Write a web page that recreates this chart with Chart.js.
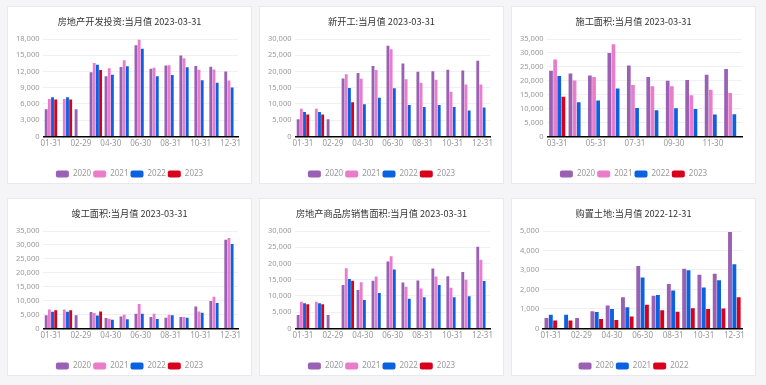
<!DOCTYPE html>
<html>
<head>
<meta charset="utf-8">
<script src="https://cdn.jsdelivr.net/npm/chart.js"></script>
<style>
  body { margin: 0; background: #f5f5f7; width: 766px; height: 385px; overflow: hidden; }
  .card { position: absolute; width: 245px; height: 178px; background: #fff; border: 1px solid #e8e8ee; box-sizing: border-box; }
  .card canvas { display: block; }
</style>
</head>
<body>
<div class="card" style="left:7px;top:6px"><canvas id="c1" width="243" height="176"></canvas></div>
<div class="card" style="left:259px;top:6px"><canvas id="c2" width="243" height="176"></canvas></div>
<div class="card" style="left:511px;top:6px"><canvas id="c3" width="243" height="176"></canvas></div>
<div class="card" style="left:7px;top:198px"><canvas id="c4" width="243" height="176"></canvas></div>
<div class="card" style="left:259px;top:198px"><canvas id="c5" width="243" height="176"></canvas></div>
<div class="card" style="left:511px;top:198px"><canvas id="c6" width="243" height="176"></canvas></div>

<script>
  // month-end categories (2020 has 02-29, other years 02-28)
  const months = ['01-31','02-28','02-29','03-31','04-30','05-31','06-30','07-31','08-31','09-30','10-31','11-30','12-31'];
  const monthsFromMar = ['03-31','04-30','05-31','06-30','07-31','08-31','09-30','10-31','11-30','12-31'];

  // 房地产开发投资
  const inv2020 = [5030, null, 5030, 11870, 11100, 12840, 16840, 12520, 13100, 14970, 13030, 12900, 12000];
  const inv2021 = [6900, 6900, null, 13550, 12580, 14060, 17870, 12710, 13160, 14450, 12320, 12390, 10320];
  const inv2022 = [7230, 7230, null, 13230, 11420, 12970, 16190, 11100, 11350, 12770, 10390, 9940, 9030];
  const inv2023 = [6840, 6840, null, 12260, null, null, null, null, null, null, null, null, null];

  // 新开工
  const start2020 = [5270, null, 5270, 17850, 19570, 21720, 27960, 22470, 19890, 20110, 20540, 20320, 23330];
  const start2021 = [8490, 8490, null, 19140, 17740, 20430, 26880, 17630, 16560, 17420, 13760, 16020, 16020];
  const start2022 = [7530, 7530, null, 14950, 9890, 11940, 14840, 9680, 9030, 9680, 9030, 7960, 8920];
  const start2023 = [6770, 6770, null, 10540, null, null, null, null, null, null, null, null, null];

  // 施工面积
  const cons2020 = [23620, 22620, 21870, 30000, 25500, 21370, 20000, 20250, 22120, 24250];
  const cons2021 = [27620, 20120, 21370, 33120, 18500, 18000, 18000, 14750, 16750, 15620];
  const cons2022 = [21750, 12250, 12870, 17250, 10250, 9370, 10120, 9870, 7870, 8000];
  const cons2023 = [14250, null, null, null, null, null, null, null, null, null];

  // 竣工面积
  const done2020 = [4750, null, 4750, 5870, 3750, 4250, 5250, 4120, 3870, 4120, 7870, 9870, 31870];
  const done2021 = [6750, 6750, null, 5500, 3500, 4870, 8750, 5250, 4870, 4120, 6120, 11370, 32500];
  const done2022 = [6000, 6000, null, 4620, 3120, 3250, 5250, 3370, 4750, 3870, 5620, 9120, 30370];
  const done2023 = [6500, 6500, null, 6120, null, null, null, null, null, null, null, null, null];

  // 房地产商品房销售面积
  const sale2020 = [4100, null, 4100, 13380, 11870, 14680, 20610, 14140, 14780, 18450, 16080, 17370, 25140];
  const sale2021 = [8200, 8200, null, 18560, 14250, 15970, 22230, 12840, 12300, 15970, 12520, 15000, 21150];
  const sale2022 = [7770, 7770, null, 15220, 8740, 10900, 18130, 9170, 9600, 13380, 9600, 9930, 14570];
  const sale2023 = [7450, 7450, null, 14680, null, null, null, null, null, null, null, null, null];

  // 购置土地
  const land2020 = [540, null, 540, 880, 1180, 1600, 3210, 1680, 2280, 3060, 2760, 2810, 4950];
  const land2021 = [700, 700, null, 840, 990, 1080, 2620, 1720, 1950, 2990, 2100, 2470, 3300];
  const land2022 = [410, 410, null, 480, 430, 610, 1220, 930, 860, 1040, 990, 1020, 1600];

  const purple = '#9a60b4', pink = '#ea7ccc', blue = '#0a62e0', red = '#d9001b';

  Chart.defaults.font.family = "'Noto Sans', 'Noto Sans CJK SC', sans-serif";

  function makeChart(id, title, labels, series, max, step) {
    new Chart(document.getElementById(id), {
      type: 'bar',
      data: {
        labels: labels,
        datasets: series.map(s => ({
          label: s[0], data: s[1], backgroundColor: s[2],
          borderWidth: 0, categoryPercentage: 0.85, barPercentage: 0.9
        }))
      },
      options: {
        responsive: false,
        animation: false,
        locale: 'en-US',
        layout: { padding: { left: 4, right: 4, top: 4, bottom: -5 } },
        plugins: {
          title: { display: true, text: title, color: '#333', font: { size: 9.2, weight: 'normal', family: "'Noto Sans CJK SC', sans-serif" }, padding: { top: 5, bottom: 12 } },
          legend: { position: 'bottom', labels: { boxWidth: 13, boxHeight: 7, useBorderRadius: true, borderRadius: 2, color: '#999', font: { size: 8 }, padding: 2 } },
          tooltip: { enabled: false }
        },
        scales: {
          x: {
            grid: { display: false, drawTicks: false },
            border: { display: true, color: '#000', width: 1.5, dash: [5, 3] },
            ticks: { color: '#999', font: { size: 8 }, maxRotation: 0, autoSkip: false, padding: 3,
                     callback: (v, i) => i % 2 ? '' : labels[i] },
            afterFit: s => { s.height += 16; }
          },
          y: {
            min: 0, max: max,
            ticks: { stepSize: step, autoSkip: false, color: '#999', font: { size: 7.5 }, padding: 4 },
            grid: { color: '#eef0f6', drawTicks: false },
            border: { display: false }
          },
          // empty right-hand spacer so the title and legend stay centred on the card
          spacer: {
            type: 'linear', position: 'right', display: true,
            ticks: { display: false }, grid: { display: false }, border: { display: false },
            afterFit: s => { s.width = 9; }
          }
        }
      }
    });
  }

  makeChart('c1', '房地产开发投资:当月值 2023-03-31', months,
    [['2020', inv2020, purple], ['2021', inv2021, pink], ['2022', inv2022, blue], ['2023', inv2023, red]], 18000, 3000);
  makeChart('c2', '新开工:当月值 2023-03-31', months,
    [['2020', start2020, purple], ['2021', start2021, pink], ['2022', start2022, blue], ['2023', start2023, red]], 30000, 5000);
  makeChart('c3', '施工面积:当月值 2023-03-31', monthsFromMar,
    [['2020', cons2020, purple], ['2021', cons2021, pink], ['2022', cons2022, blue], ['2023', cons2023, red]], 35000, 5000);
  makeChart('c4', '竣工面积:当月值 2023-03-31', months,
    [['2020', done2020, purple], ['2021', done2021, pink], ['2022', done2022, blue], ['2023', done2023, red]], 35000, 5000);
  makeChart('c5', '房地产商品房销售面积:当月值 2023-03-31', months,
    [['2020', sale2020, purple], ['2021', sale2021, pink], ['2022', sale2022, blue], ['2023', sale2023, red]], 30000, 5000);
  makeChart('c6', '购置土地:当月值 2022-12-31', months,
    [['2020', land2020, purple], ['2021', land2021, blue], ['2022', land2022, red]], 5000, 1000);
</script>
</body>
</html>
